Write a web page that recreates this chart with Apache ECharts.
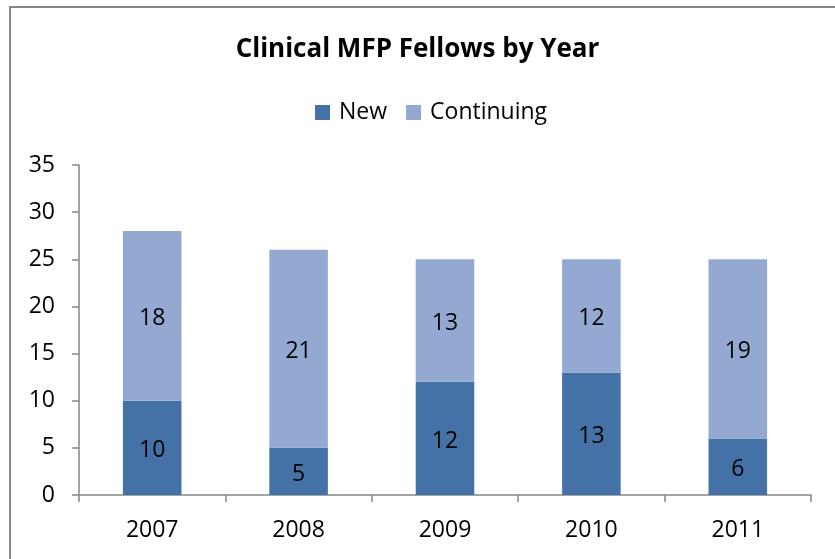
<!DOCTYPE html>
<html>
<head>
<meta charset="utf-8">
<script src="https://cdn.jsdelivr.net/npm/echarts@6/dist/echarts.min.js"></script>
<style>
html,body{margin:0;padding:0;background:#fff;}
#c{width:835px;height:559px;}
</style>
</head>
<body>
<div id="c"></div>
<script>
var years = ['2007', '2008', '2009', '2010', '2011'];
var newFellows = [10, 5, 12, 13, 6];
var continuing = [18, 21, 13, 12, 19];
var yTicks = [0, 5, 10, 15, 20, 25, 30, 35];

var FONT = '"Open Sans", sans-serif';
var chart = echarts.init(document.getElementById('c'), null, {renderer: 'canvas'});
chart.setOption({
  backgroundColor: '#fff',
  animation: false,
  graphic: [{
    type: 'rect',
    shape: {x: 10, y: 7, width: 900, height: 600},
    style: {fill: 'none', stroke: '#878787', lineWidth: 2},
    silent: true
  }],
  title: {
    text: 'Clinical MFP Fellows by Year',
    left: 'center',
    top: 32,
    textStyle: {fontFamily: FONT, fontSize: 26, fontWeight: 'bold', color: '#000'}
  },
  legend: {
    top: 96,
    left: 310,
    itemWidth: 15,
    itemHeight: 15,
    itemGap: 19,
    icon: 'rect',
    textStyle: {fontFamily: FONT, fontSize: 23, color: '#000', padding: [0, 0, 0, 4]},
    data: ['New', 'Continuing']
  },
  grid: {left: 79, right: 24, top: 165, bottom: 64, containLabel: false},
  xAxis: {
    type: 'category',
    data: years,
    axisLine: {lineStyle: {color: '#868686', width: 1.5}},
    axisTick: {show: true, length: 7, lineStyle: {color: '#868686', width: 1.5}},
    axisLabel: {fontFamily: FONT, fontSize: 23, color: '#000', margin: 24}
  },
  yAxis: {
    type: 'value',
    min: 0,
    max: 35,
    interval: 5,
    splitLine: {show: false},
    axisLine: {show: true, lineStyle: {color: '#868686', width: 1.5}},
    axisTick: {show: true, length: 7, lineStyle: {color: '#868686', width: 1.5}},
    axisLabel: {fontFamily: FONT, fontSize: 23, color: '#000', margin: 24,
      formatter: function (v) { return yTicks.indexOf(v) >= 0 ? String(v) : ''; }}
  },
  series: [
    {
      name: 'New',
      type: 'bar',
      stack: 'total',
      barWidth: '40%',
      data: newFellows,
      itemStyle: {color: '#4472A6'},
      label: {show: true, position: 'inside', fontFamily: FONT, fontSize: 23, color: '#000', offset: [0, 3]}
    },
    {
      name: 'Continuing',
      type: 'bar',
      stack: 'total',
      barWidth: '40%',
      data: continuing,
      itemStyle: {color: '#94A9D1'},
      label: {show: true, position: 'inside', fontFamily: FONT, fontSize: 23, color: '#000', offset: [0, 3]}
    }
  ]
});
</script>
</body>
</html>
